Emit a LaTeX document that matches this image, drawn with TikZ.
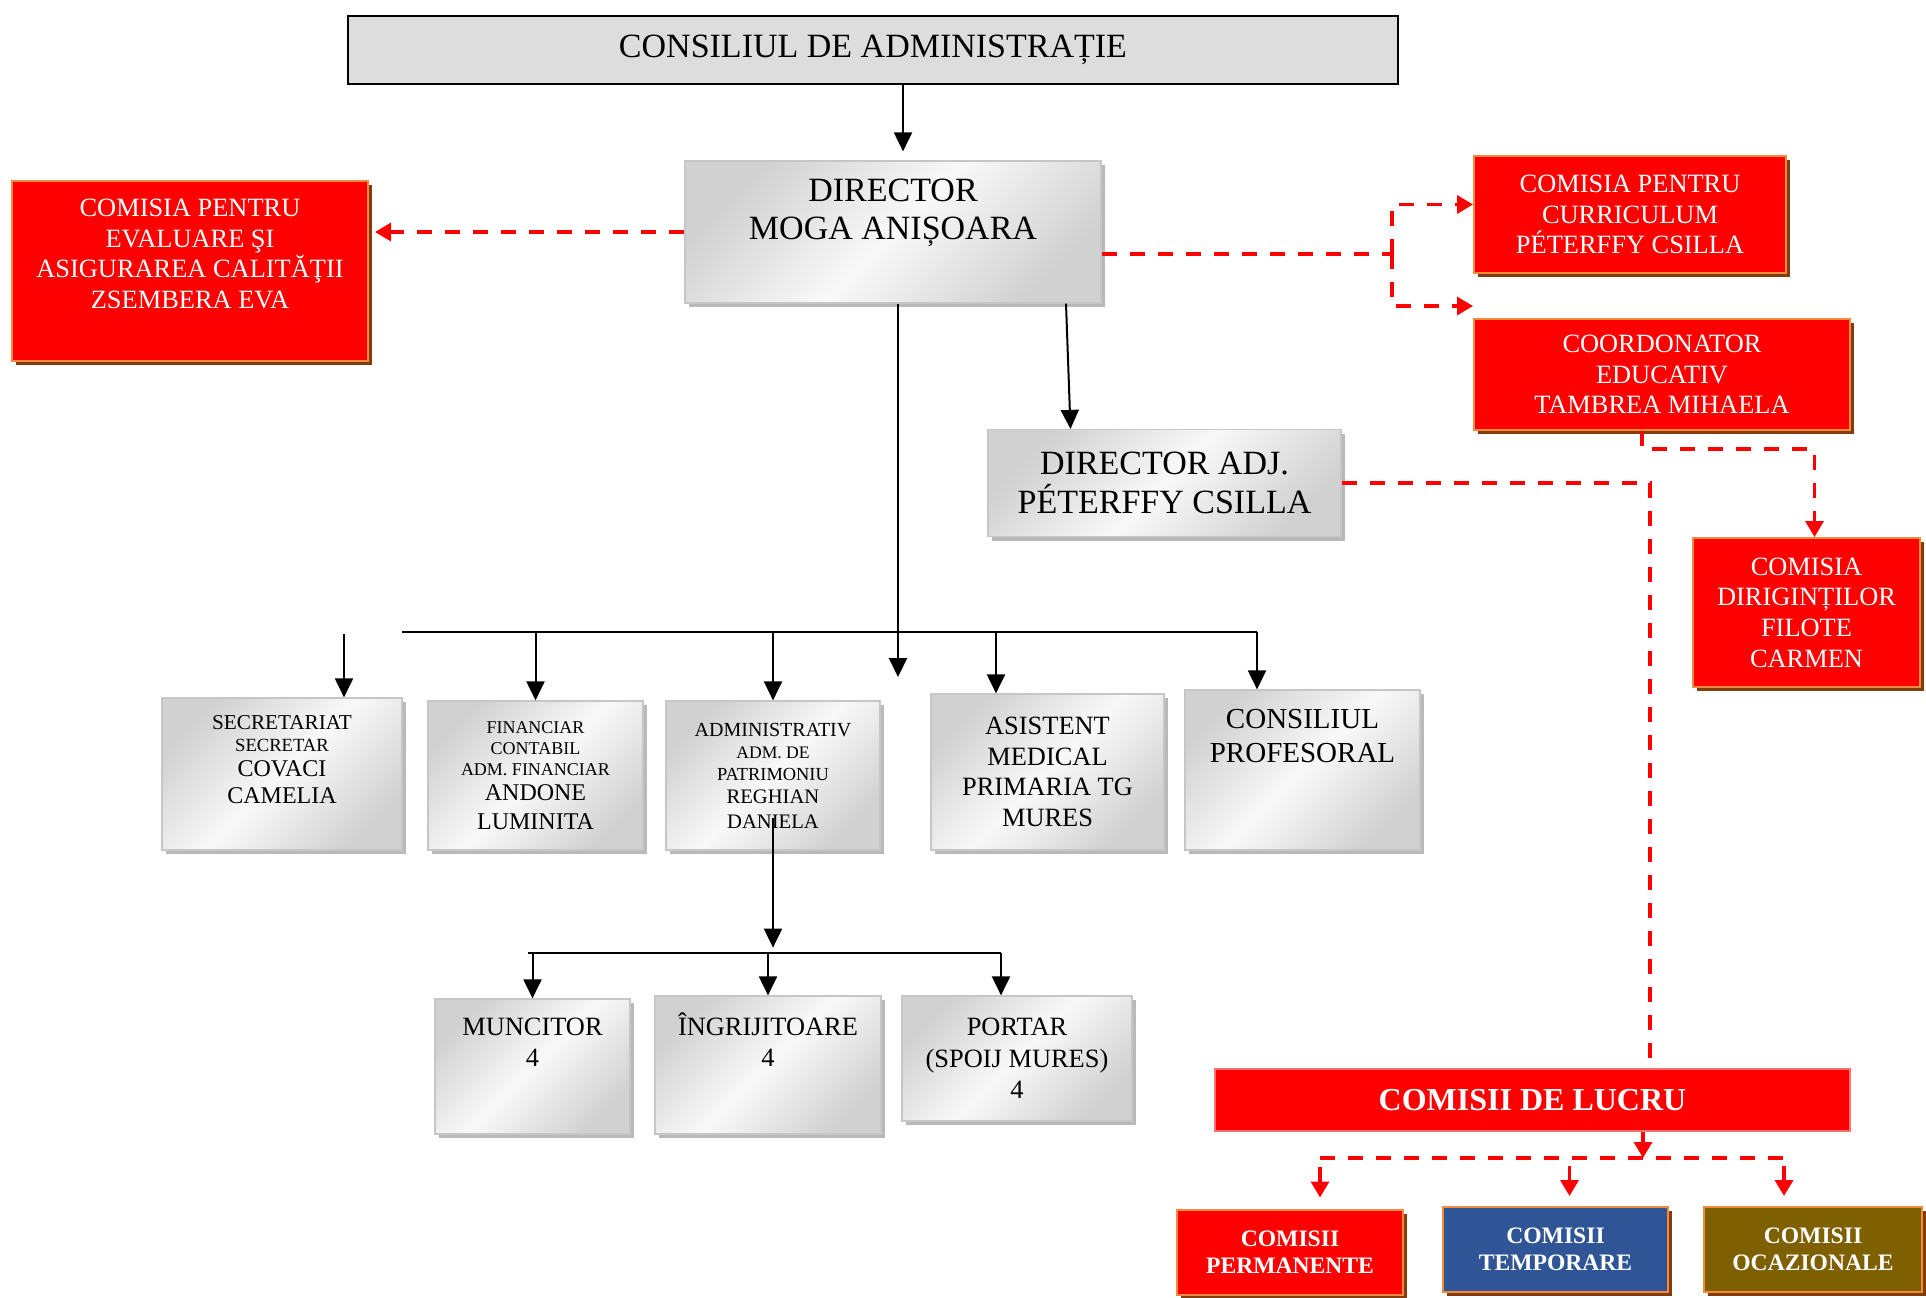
\documentclass[tikz,border=0pt]{standalone}
\usepackage{fontspec}
\setmainfont{Liberation Serif}
\usetikzlibrary{arrows.meta,shadows}
\definecolor{boxred}{RGB}{255,0,0}
\definecolor{edgeorange}{RGB}{240,140,60}
\definecolor{shadowbrown}{RGB}{132,60,12}
\definecolor{boxblue}{RGB}{47,85,151}
\definecolor{boxolive}{RGB}{127,96,0}
\newcommand\fsz[2]{\fontsize{#1}{#2}\selectfont}

\begin{document}
\begin{tikzpicture}[x=0.5pt,y=-0.5pt,line width=1pt,>={Triangle[length=9.5pt,width=9pt]},
  graybox/.style={draw=gray!45,line width=0.6pt,top color=gray!36,bottom color=gray!36,
    middle color=gray!5,shading angle=45,inner sep=0pt,align=center,
    drop shadow={shadow xshift=2pt,shadow yshift=-2pt,fill=gray!55,opacity=1}},
  redbox/.style={draw=edgeorange,line width=1pt,fill=boxred,text=white,inner sep=0pt,
    align=center,font=\fsz{13.2}{15.3},
    drop shadow={shadow xshift=2pt,shadow yshift=-2pt,fill=shadowbrown,opacity=1}},
  reddash/.style={draw=boxred,line width=1.7pt,dash pattern=on 7.5pt off 6.5pt,
    >={Triangle[length=8pt,width=9pt]}}]
\useasboundingbox (0,0) rectangle (1926,1297);

\node[draw=black,line width=0.6pt,fill=gray!27,minimum width=525pt,minimum height=34pt,
  font=\fsz{17}{19}] (cons) at (873,50) {CONSILIUL DE ADMINISTRAȚIE};

\node[graybox,minimum width=208pt,minimum height=71pt] (dir) at (893,232) {};
\node[font=\fsz{17}{19},align=center] (dirtxt) at ([yshift=9.5pt]dir.center) {DIRECTOR\\MOGA ANIȘOARA};

\node[graybox,minimum width=176.5pt,minimum height=53.5pt,font=\fsz{17}{19.5}] (adj) at (1164.5,483)
  {DIRECTOR ADJ.\\PÉTERFFY CSILLA};

\node[redbox,minimum width=178pt,minimum height=90pt] (evl) at (190,271) {};
\node[text=white,font=\fsz{13.2}{15.3},align=center] (evltxt) at ([yshift=8.5pt]evl.center)
  {COMISIA PENTRU\\EVALUARE ŞI\\ASIGURAREA CALITĂŢII\\ZSEMBERA EVA};

\node[redbox,minimum width=156pt,minimum height=58.5pt] (cur) at (1630,214.5)
  {COMISIA PENTRU\\CURRICULUM\\PÉTERFFY CSILLA};
\node[redbox,minimum width=188pt,minimum height=55.5pt] (coo) at (1662,374.5)
  {COORDONATOR\\EDUCATIV\\TAMBREA MIHAELA};
\node[redbox,minimum width=113.5pt,minimum height=74.5pt] (dirig) at (1806.5,612.5)
  {COMISIA\\DIRIGINȚILOR\\FILOTE\\CARMEN};

\node[graybox,minimum width=120pt,minimum height=76pt] (sec) at (282,774) {};
\node[font=\fsz{12}{12.5},align=center] (sectxt) at ([yshift=7pt]sec.center)
  {{\fsz{10.6}{12}SECRETARIAT}\\[-1.5pt]{\fsz{9.3}{11}SECRETAR}\\COVACI\\[1pt]CAMELIA};

\node[graybox,minimum width=107.5pt,minimum height=74.5pt,font=\fsz{12}{12.5}] (fin) at (535.5,775.5)
  {{\fsz{9}{10}FINANCIAR}\\[-2pt]{\fsz{9}{10}CONTABIL}\\[-2pt]{\fsz{9}{10}ADM. FINANCIAR}\\ANDONE\\[2pt]LUMINITA};

\node[graybox,minimum width=107pt,minimum height=74.5pt,font=\fsz{10.3}{11.5}] (adm) at (773,775.5)
  {{\fsz{10}{11}ADMINISTRATIV}\\[-0.5pt]{\fsz{8.8}{10}ADM. DE}\\[-0.5pt]{\fsz{9.2}{10}PATRIMONIU}\\REGHIAN\\[1pt]DANIELA};

\node[graybox,minimum width=116.5pt,minimum height=78pt,font=\fsz{13.2}{15.3}] (asi) at (1047.5,772)
  {ASISTENT\\MEDICAL\\PRIMARIA TG\\MURES};

\node[graybox,minimum width=117.5pt,minimum height=80pt] (prof) at (1302.5,770) {};
\node[font=\fsz{14.5}{17},align=center] (proftxt) at ([yshift=17pt]prof.center) {CONSILIUL\\PROFESORAL};

\node[graybox,minimum width=97.5pt,minimum height=67.5pt] (mun) at (532.5,1066.5) {};
\node[font=\fsz{13.2}{15.5},align=center] (muntxt) at ([yshift=12pt]mun.center) {MUNCITOR\\4};

\node[graybox,minimum width=113pt,minimum height=69pt] (ing) at (768,1065) {};
\node[font=\fsz{13.2}{15.5},align=center] (ingtxt) at ([yshift=12.5pt]ing.center) {ÎNGRIJITOARE\\4};

\node[graybox,minimum width=115pt,minimum height=62.5pt,font=\fsz{13.2}{15.7}] (por) at (1017,1058.5)
  {PORTAR\\(SPOIJ MURES)\\4};

\node[fill=boxred,draw=boxred!55,line width=0.6pt,minimum width=317.5pt,minimum height=31pt,text=white,
  font=\bfseries\fsz{16}{18}] (lucru) at (1532.5,1100) {COMISII DE LUCRU};

\node[redbox,minimum width=113pt,minimum height=42.5pt,font=\bfseries\fsz{11.8}{13.5}] (perm) at (1290,1252)
  {COMISII\\PERMANENTE};
\node[redbox,fill=boxblue,minimum width=112.5pt,minimum height=42.5pt,font=\bfseries\fsz{11.8}{13.5}] (tmp) at (1555.5,1249.5)
  {COMISII\\TEMPORARE};
\node[redbox,fill=boxolive,minimum width=109pt,minimum height=42.5pt,font=\bfseries\fsz{11.8}{13.5}] (oca) at (1813,1249.5)
  {COMISII\\OCAZIONALE};

\coordinate (hub) at (898,677);
\coordinate (busL) at (402,632);
\coordinate (busR) at (1257,632);
\coordinate (b2L) at (528,953);
\coordinate (b2R) at (1001,953);
\coordinate (rsplit) at (1392,254);
\coordinate (lbusL) at (1320,1158);
\coordinate (lbus) at (1643,1158);
\coordinate (lbusR) at (1784,1158);

\draw[->] ([xshift=15pt]cons.south) -- ([xshift=5pt,yshift=4.5pt]dir.north);
\draw[->] ([xshift=2.5pt]dir.south) -- (hub);
\draw[->] ([xshift=86.5pt]dir.south) -- ([xshift=-47pt]adj.north);

\draw (busL) -- (busR);
\draw[<-] ([xshift=31pt]sec.north) -- ++(0,-63);
\draw[->] (fin.north |- busL) -- (fin.north);
\draw[->] (adm.north |- busL) -- (adm.north);
\draw[<-] ([xshift=-25.75pt]asi.north) -- ++(0,-62);
\draw[->] (busR) -- (busR |- prof.north);

\draw[->] ([yshift=16.5pt]adm.south) -- ([yshift=-48.5pt]adm.south);
\draw (b2L) -- (b2R);
\draw[->] (mun.north |- b2L) -- (mun.north);
\draw[->] (ing.north |- b2L) -- (ing.north);
\draw[->] (b2R) -- (b2R |- por.north);

\draw[reddash,->,shorten >=3pt] (dir.west) -- (dir.west -| evl.east);
\draw[reddash] ([yshift=-11pt]dir.east) -- (rsplit);
\draw[reddash,->] (rsplit) |- ([yshift=5pt]cur.west);
\draw[reddash,->] (rsplit) |- ([yshift=6pt]coo.north west);
\draw[reddash,->] ([xshift=-10pt]coo.south) -- ++(0,18) -| ([xshift=4pt]dirig.north);
\draw[reddash] (adj.east) -| ([xshift=58.75pt,yshift=3.5pt]lucru.north);

\draw[reddash,->] ([xshift=55.25pt]lucru.south) -- (lbus);
\draw[reddash] (lbusL) -- (lbusR);
\draw[reddash,<-] ([xshift=15pt,yshift=5.5pt]perm.north) -- ++(0,-41);
\draw[reddash,<-] ([xshift=7pt,yshift=5pt]tmp.north) -- ++(0,-39);
\draw[reddash,<-] ([xshift=-14.5pt,yshift=5pt]oca.north) -- ++(0,-39);
\end{tikzpicture}
\end{document}
